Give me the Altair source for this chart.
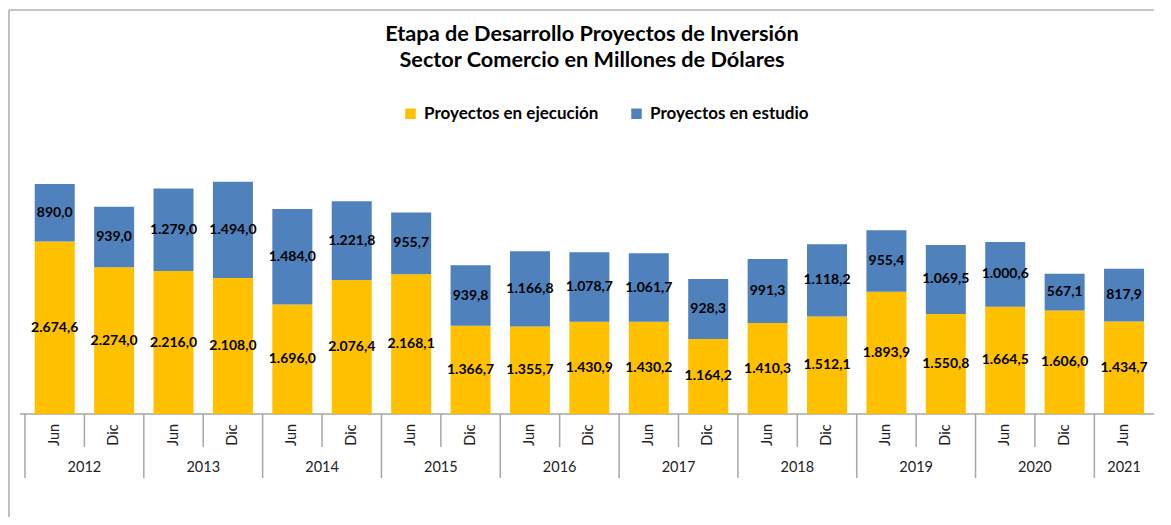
import altair as alt
import pandas as pd

anios = ["2012", "2012", "2013", "2013", "2014", "2014", "2015", "2015", "2016", "2016",
         "2017", "2017", "2018", "2018", "2019", "2019", "2020", "2020", "2021"]
periodos = ["Jun", "Dic"] * 9 + ["Jun"]
ejecucion = [2674.6, 2274.0, 2216.0, 2108.0, 1696.0, 2076.4, 2168.1, 1366.7, 1355.7, 1430.9,
             1430.2, 1164.2, 1410.3, 1512.1, 1893.9, 1550.8, 1664.5, 1606.0, 1434.7]
estudio = [890.0, 939.0, 1279.0, 1494.0, 1484.0, 1221.8, 955.7, 939.8, 1166.8, 1078.7,
           1061.7, 928.3, 991.3, 1118.2, 955.4, 1069.5, 1000.6, 567.1, 817.9]
series = ["Proyectos en ejecución", "Proyectos en estudio"]
colores = ["#FFC000", "#4F81BD"]
titulo = ["Etapa de Desarrollo Proyectos de Inversión",
          "Sector Comercio en Millones de Dólares"]

W, H = 1134, 258
PADL, PADT, PADB = 12, 148, 103
FONT = "Lato"
GRIS = "#A6A6A6"


def fmt(v):
    s = f"{v:,.1f}"
    return s.replace(",", "X").replace(".", ",").replace("X", ".")


rows = []
for i in range(len(anios)):
    a, b = ejecucion[i], estudio[i]
    rows.append(dict(xc=i + 0.5, serie=series[0], y0=0, y1=a, ym=a / 2, lab=fmt(a)))
    rows.append(dict(xc=i + 0.5, serie=series[1], y0=a, y1=a + b, ym=a + b / 2, lab=fmt(b)))
bars_df = pd.DataFrame(rows)

cats_df = pd.DataFrame({"xc": [i + 0.5 for i in range(len(anios))], "periodo": periodos})

bnd = []
for i in range(len(anios)):
    bnd.append(dict(xb=i, year=(i == 0 or anios[i] != anios[i - 1])))
bnd_df = pd.DataFrame(bnd)

yrs = []
for y in dict.fromkeys(anios):
    idx = [i for i, v in enumerate(anios) if v == y]
    yrs.append(dict(xm=(idx[0] + idx[-1] + 1) / 2, anio=y))
yrs_df = pd.DataFrame(yrs)

xs = alt.Scale(domain=[0, 18.92], nice=False, zero=False)
ys = alt.Scale(domain=[0, 4000], nice=False)

one = pd.DataFrame({"k": [0]})
border_top = alt.Chart(one).mark_rule(color="#8C8C8C", strokeWidth=1.2).encode(
    x=alt.value(-PADL + 1), x2=alt.value(W), y=alt.value(-146)
)
border_left = alt.Chart(one).mark_rule(color="#BFBFBF", strokeWidth=2).encode(
    x=alt.value(-PADL + 1), y=alt.value(-146), y2=alt.value(H + PADB)
)

axis_line = alt.Chart(one).mark_rule(color=GRIS, strokeWidth=1.5).encode(
    x=alt.value(0), x2=alt.value(W), y=alt.value(H)
)

seps_short = alt.Chart(bnd_df).transform_filter("!datum.year").mark_rule(
    color=GRIS, strokeWidth=1.5
).encode(x=alt.X("xb:Q", scale=xs, axis=None), y=alt.value(H), y2=alt.value(H + 33))

seps_long = alt.Chart(bnd_df).transform_filter("datum.year").mark_rule(
    color=GRIS, strokeWidth=1.5
).encode(x=alt.X("xb:Q", scale=xs, axis=None), y=alt.value(H), y2=alt.value(H + 64))

bars = alt.Chart(bars_df).mark_bar(size=40).encode(
    x=alt.X("xc:Q", scale=xs, axis=None),
    y=alt.Y("y0:Q", scale=ys, axis=None),
    y2="y1:Q",
    color=alt.Color(
        "serie:N",
        scale=alt.Scale(domain=series, range=colores),
        legend=alt.Legend(
            title=None, orient="none", legendX=382, legendY=-51, direction="horizontal",
            symbolType="square", symbolSize=110, symbolStrokeWidth=0,
            labelFont=FONT, labelFontSize=17, labelFontWeight="bold", labelColor="#000",
            labelLimit=400, labelOffset=5, columnPadding=29, padding=0,
        ),
    ),
)

labels = alt.Chart(bars_df).mark_text(
    font=FONT, fontSize=14, fontWeight="bold", color="#000", baseline="middle"
).encode(
    x=alt.X("xc:Q", scale=xs, axis=None),
    y=alt.Y("ym:Q", scale=ys, axis=None),
    text="lab:N",
)

per = alt.Chart(cats_df).mark_text(
    font=FONT, fontSize=14.5, color="#222", angle=270, align="center", baseline="middle"
).encode(x=alt.X("xc:Q", scale=xs, axis=None), y=alt.value(H + 21), text="periodo:N")

yr = alt.Chart(yrs_df).mark_text(
    font=FONT, fontSize=14.5, color="#222", align="center", baseline="middle"
).encode(x=alt.X("xm:Q", scale=xs, axis=None), y=alt.value(H + 54), text="anio:N")

tit_df = pd.DataFrame({"t": titulo, "linea": [0, 1]})
tit1 = alt.Chart(tit_df).transform_filter("datum.linea == 0").mark_text(
    font=FONT, fontSize=21.7, fontWeight="bold", color="#000", align="center", baseline="middle"
).encode(x=alt.value(572), y=alt.value(-122), text="t:N")
tit2 = alt.Chart(tit_df).transform_filter("datum.linea == 1").mark_text(
    font=FONT, fontSize=21.7, fontWeight="bold", color="#000", align="center", baseline="middle"
).encode(x=alt.value(572), y=alt.value(-96), text="t:N")

chart = alt.layer(
    border_top, border_left, axis_line, seps_short, seps_long, bars, labels, per, yr, tit1, tit2
).properties(
    width=W, height=H,
    autosize=alt.AutoSizeParams(type="none"),
    padding={"left": PADL, "top": PADT, "right": 0, "bottom": PADB},
).configure_view(stroke=None)

chart.save("out.html", embed_options={"renderer": "svg", "actions": False})
